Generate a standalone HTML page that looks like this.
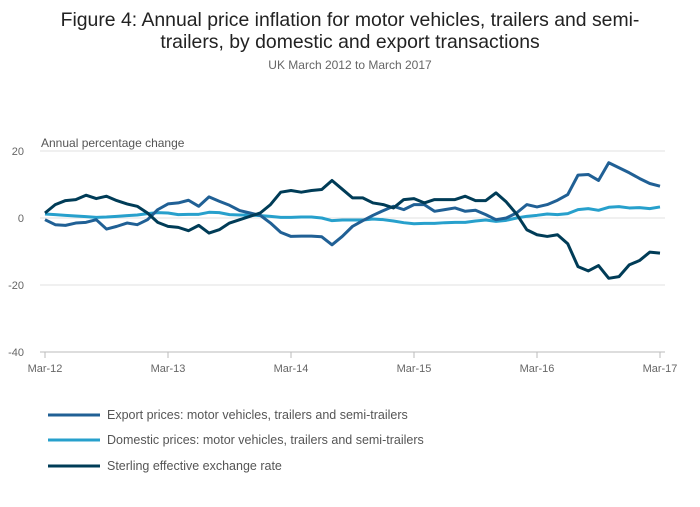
<!DOCTYPE html>
<html><head><meta charset="utf-8"><style>
body{margin:0;background:#fff;font-family:"Liberation Sans",sans-serif;}
svg text{font-family:"Liberation Sans",sans-serif;}
</style></head><body>
<svg width="700" height="502">
<text x="350" y="26" text-anchor="middle" font-size="19.4" fill="#222">Figure 4: Annual price inflation for motor vehicles, trailers and semi-</text>
<text x="350" y="48" text-anchor="middle" font-size="19.4" fill="#222">trailers, by domestic and export transactions</text>
<text x="350" y="69" text-anchor="middle" font-size="12" fill="#666">UK March 2012 to March 2017</text>
<text x="41" y="147" font-size="12" fill="#555">Annual percentage change</text>
<g id="grid"></g><g id="xaxis"></g><g id="series"></g>
<g>
<line x1="48" y1="415" x2="100" y2="415" stroke="#206095" stroke-width="3"/>
<text x="107" y="419" font-size="12.5" fill="#555">Export prices: motor vehicles, trailers and semi-trailers</text>
<line x1="48" y1="440" x2="100" y2="440" stroke="#27a0cc" stroke-width="3"/>
<text x="107" y="444" font-size="12.5" fill="#555">Domestic prices: motor vehicles, trailers and semi-trailers</text>
<line x1="48" y1="466" x2="100" y2="466" stroke="#003c57" stroke-width="3"/>
<text x="107" y="470" font-size="12.5" fill="#555">Sterling effective exchange rate</text>
</g>
</svg>
<script>
const yTicks=[20,0,-20,-40];
const xLabels=["Mar-12","Mar-13","Mar-14","Mar-15","Mar-16","Mar-17"];
const exportPrices=[-0.5,-2,-2.2,-1.5,-1.3,-0.5,-3.3,-2.5,-1.5,-2,-0.5,2.5,4.2,4.5,5.3,3.5,6.3,5,3.8,2.2,1.5,0.8,-1.5,-4.3,-5.5,-5.4,-5.4,-5.6,-8,-5.5,-2.5,-0.8,0.8,2.2,3.5,2.5,4,4,2,2.5,3,2,2.3,1,-0.5,0,1.5,4,3.3,4,5.3,7,12.8,13,11.2,16.5,15,13.5,11.8,10.3,9.5];
const domesticPrices=[1.2,1,0.8,0.6,0.4,0.2,0.3,0.5,0.7,0.9,1.3,1.6,1.5,1.0,1.1,1.1,1.7,1.6,1.0,0.9,0.9,0.7,0.5,0.2,0.2,0.3,0.3,0,-0.8,-0.6,-0.6,-0.6,-0.3,-0.5,-0.9,-1.4,-1.7,-1.6,-1.6,-1.4,-1.3,-1.3,-0.9,-0.6,-1,-0.7,0,0.5,0.8,1.2,1.0,1.3,2.5,2.8,2.3,3.2,3.4,3.0,3.1,2.8,3.3];
const sterling=[1.5,4,5.2,5.5,6.8,5.8,6.5,5.2,4.2,3.5,1.5,-1.3,-2.5,-2.8,-3.8,-2.2,-4.5,-3.5,-1.5,-0.5,0.5,1.5,4,7.7,8.2,7.7,8.2,8.5,11.2,8.6,6,6,4.5,4,3,5.5,5.8,4.5,5.5,5.5,5.5,6.5,5.2,5.2,7.5,4.8,1.2,-3.5,-5,-5.5,-5,-7.7,-14.5,-15.8,-14.2,-18,-17.5,-14,-12.7,-10.2,-10.5];
const NS="http://www.w3.org/2000/svg";
const x0=45,x1=660,nMonths=60;
function xs(i){return x0+(x1-x0)*i/nMonths;}
function ys(v){return 218-(v)*(352-218)/40;}
function mk(t,p,a){const e=document.createElementNS(NS,t);for(const k in a)e.setAttribute(k,a[k]);p.appendChild(e);return e;}
const grid=document.getElementById('grid');
yTicks.forEach(v=>{
  const l=mk('line',grid,{x1:x0-5,x2:x1+5,y1:ys(v),y2:ys(v),stroke:v===-40?'#bbb':'#e2e2e2','stroke-width':1});
  
  
  const t=mk('text',grid,{x:24,y:ys(v)+4,'font-size':11,fill:'#666','text-anchor':'end'});
  t.textContent=v;
  
  
});
const xa=document.getElementById('xaxis');
xLabels.forEach((lab,i)=>{
  const x=xs(i*12);
  const tk=mk('line',xa,{x1:x,x2:x,y1:352,y2:358,stroke:'#bbb'});
  
  
  const t=mk('text',xa,{x:x,y:372,'font-size':11,fill:'#666','text-anchor':'middle'});
  t.textContent=lab;
  
  
});
const sg=document.getElementById('series');
[[domesticPrices,'#27a0cc','domestic-line'],[exportPrices,'#206095','export-line'],[sterling,'#003c57','sterling-line']].forEach(([d,c,n])=>{
  const p=mk('polyline',sg,{points:d.map((v,i)=>xs(i)+','+ys(v)).join(' '),fill:'none',stroke:c,'stroke-width':3,'stroke-linejoin':'round'});
  
  
});
</script>
</body></html>
